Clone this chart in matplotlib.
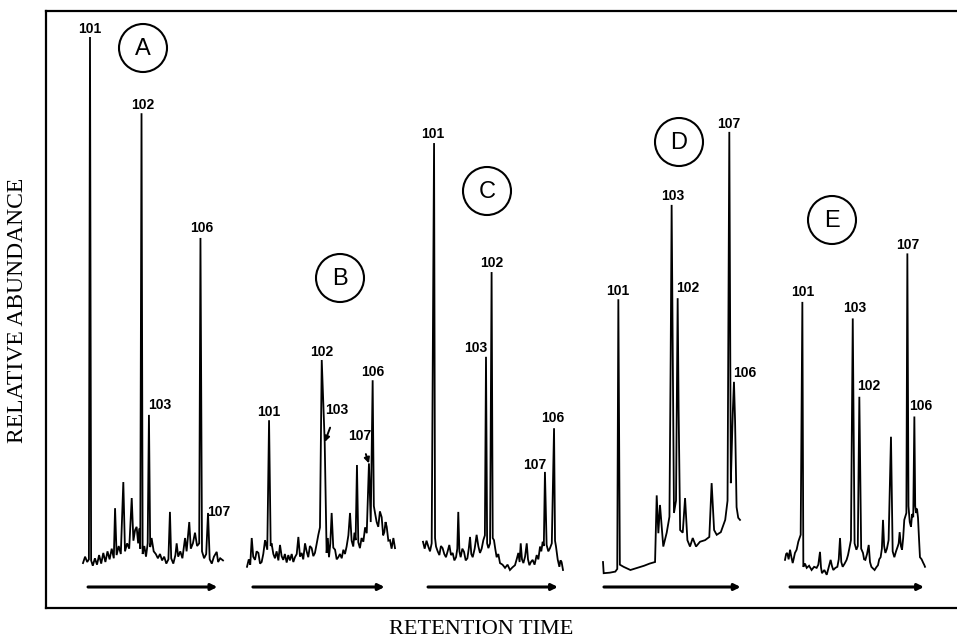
import numpy as np
import matplotlib.pyplot as plt
from matplotlib.patches import Circle

plt.rcParams['font.family'] = ['Liberation Sans', 'DejaVu Sans']

# retention time runs 0-100 across each trace, relative abundance 100 = peak 101 in run A
runs = ['A', 'B', 'C', 'D', 'E']

# labelled compounds in each run
A_ids = ['101', '102', '103', '106', '107']
A_rt = [5.0, 41.8, 47.1, 83.9, 89.3]
A_ab = [100, 85.7, 29.1, 62.3, 10.7]
B_ids = ['101', '102', '103', '106', '107']
B_rt = [14.9, 50.5, 52.5, 84.9, 82.4]
B_ab = [28.1, 39.4, 24.0, 35.6, 20.0]
C_ids = ['101', '102', '103', '106', '107']
C_rt = [7.9, 49.0, 45.0, 93.6, 87.1]
C_ab = [80.1, 55.9, 40.0, 26.6, 18.4]
D_ids = ['101', '103', '102', '107', '106']
D_rt = [11.2, 50.1, 54.5, 92.2, 95.6]
D_ab = [50.8, 68.5, 51.0, 82.2, 35.3]
E_ids = ['101', '103', '102', '107', '106']
E_rt = [12.4, 48.4, 53.1, 87.4, 92.4]
E_ab = [50.3, 47.2, 32.5, 59.4, 28.8]

# rest of each trace: baseline noise and unlabelled peaks
A_bg_rt = [0, 1.5, 3, 4.2, 5.8, 7, 8.5, 10, 11.5, 13, 14.5, 16, 17.5, 19, 20.5, 22, 22.9, 24,
           25.5, 27, 28.8, 30, 31.5, 33, 34.8, 36, 37.2, 38.3, 39.4, 40.2, 40.9, 42.6, 43.8,
           45, 46.2, 48, 49, 50.5, 52, 53.5, 55, 56.5, 58, 59.5, 61, 62.1, 63, 64.5, 66,
           66.9, 68, 69.5, 71, 72.9, 74, 75.9, 77, 78.5, 80, 81.5, 83, 85, 86.5, 88, 90.5,
           92, 93.5, 95.5, 96.5, 98, 100]
A_bg_ab = [1.3, 2.5, 1.5, 2.0, 1.8, 0.8, 2.2, 1.0, 2.8, 1.2, 3.2, 1.5, 3.5, 2.0, 4.0, 2.2, 11.6, 2.8,
           4.5, 3.0, 16.5, 3.5, 5.0, 4.0, 13.5, 5.5, 7.5, 8.1, 5.0, 7.8, 4.0, 3.0, 4.5,
           2.5, 5.0, 4.3, 6.0, 3.5, 3.0, 2.2, 3.0, 1.8, 2.5, 1.2, 2.0, 10.9, 2.2, 1.2, 2.8,
           5.0, 2.5, 3.5, 2.2, 6.0, 3.5, 9.0, 4.0, 5.0, 7.0, 4.5, 5.0, 3.5, 2.2, 3.0, 2.0,
           1.2, 2.5, 3.4, 1.5, 2.2, 1.8]
B_bg_rt = [0, 1.2, 2.2, 3.2, 4.2, 5.4, 6.5, 7.7, 8.8, 9.9, 11.0, 12.2, 13.7, 16.0, 16.6, 17.8,
           18.9, 20.0, 21.2, 22.3, 23.4, 24.5, 25.6, 26.8, 27.9, 29.0, 30.2, 31.3, 32.4, 33.6,
           34.7, 35.8, 36.9, 38.0, 39.2, 40.3, 41.4, 42.5, 43.7, 44.8, 45.9, 47.0, 48.2, 49.3,
           53.8, 54.6, 55.4, 56.3, 57.2, 58.3, 59.5, 60.6, 61.7, 62.8, 64.0, 65.1, 66.2, 67.3,
           68.5, 69.6, 70.7, 71.8, 72.6, 73.4, 74.3, 75.2, 76.3, 77.4, 78.6, 79.8, 80.9, 83.6,
           85.7, 86.5, 87.6, 88.7, 89.8, 91.0, 92.0, 92.8, 93.6, 94.4, 95.5, 96.6, 97.7, 98.9, 100]
B_bg_ab = [0.6, 2.0, 1.0, 6.0, 2.5, 1.9, 3.5, 3.2, 1.2, 1.5, 3.0, 5.6, 3.8, 4.5, 5.0, 3.0,
           2.2, 3.5, 1.8, 4.7, 2.6, 1.9, 3.0, 1.4, 2.8, 1.8, 3.0, 1.5, 2.4, 3.0,
           6.2, 2.5, 3.2, 2.0, 5.0, 3.5, 2.4, 4.5, 4.1, 2.6, 3.2, 4.8, 6.6, 8.0,
           3.2, 6.0, 2.4, 5.0, 10.7, 4.2, 3.8, 2.0, 2.4, 3.0, 2.2, 3.8, 3.0, 4.4,
           6.5, 10.7, 5.5, 4.4, 7.0, 5.6, 19.7, 5.2, 4.1, 6.0, 5.3, 8.0, 6.9, 9.0,
           12.0, 10.7, 9.0, 8.1, 11.0, 9.9, 6.5, 7.1, 9.0, 8.1, 5.5, 5.6, 4.0, 6.0, 4.1]
C_bg_rt = [0, 1.2, 2.5, 3.8, 5.0, 6.2, 8.6, 9.3, 10.5, 11.7, 12.8, 14.0, 15.2, 16.4, 17.6,
           18.8, 20.0, 21.2, 22.4, 23.6, 24.5, 25.2, 26.0, 26.9, 28.1, 29.3, 30.5, 31.7, 32.7,
           33.6, 34.5, 35.5, 36.9, 38.3, 39.5, 40.7, 41.9, 43.1, 44.2, 45.8, 46.7, 47.9, 49.8,
           50.7, 51.6, 52.6, 53.8, 55.0, 56.8, 58.6, 60.4, 62.1, 63.9, 65.7, 66.9, 68.1, 69.0,
           69.8, 70.7, 71.7, 72.9, 74.1, 75.0, 76.0, 77.1, 78.3, 79.7, 81.2, 82.4, 83.6, 84.5,
           85.5, 86.3, 88.3, 89.5, 90.7, 92.0, 94.3, 95.0, 96.2, 97.4, 98.2, 99.0, 100]
C_bg_ab = [5.3, 4.0, 5.5, 4.4, 3.5, 5.0, 6.0, 4.4, 3.5, 2.8, 4.5, 4.1, 3.0, 2.4, 3.5,
           4.7, 2.8, 3.2, 1.8, 2.4, 4.0, 10.9, 3.5, 2.4, 4.0, 3.4, 1.8, 2.2, 4.0,
           6.2, 3.0, 2.4, 4.0, 6.6, 4.5, 3.2, 4.0, 5.6, 6.5, 5.0, 4.1, 5.0, 6.0,
           5.6, 4.0, 2.4, 3.0, 1.3, 1.0, 0.4, 1.0, 0.0, 0.5, 0.9, 2.0, 3.2, 1.5,
           5.0, 2.0, 1.3, 2.5, 5.0, 2.0, 0.9, 1.5, 1.9, 1.0, 2.8, 2.0, 4.4, 3.5,
           5.3, 4.5, 4.7, 3.5, 4.1, 5.0, 5.5, 4.4, 2.0, 0.6, 1.8, 1.5, 0.0]
D_bg_rt = [0, 0.5, 5, 9, 10.4, 12.3, 15, 20, 25, 30, 34, 38, 39.2, 40.4, 41.6, 44, 46.5, 48.5,
           49.4, 51.8, 53.3, 55.2, 56.3, 58.2, 59.9, 61.6, 63.5, 65.5, 67.9, 70.8, 74.5, 77.6,
           79.3, 81.1, 83, 86, 89.2, 90.9, 93.3, 94.3, 94.8, 96.4, 97.5, 98.7, 100]
D_bg_ab = [1.5, -0.6, -0.5, -0.3, 0.2, 1.0, 0.6, 0.0, 0.4, 0.8, 1.2, 1.5, 14.0, 6.9, 12.2, 4.4, 7.0, 10.0,
           40.0, 10.7, 13.0, 30.0, 7.5, 7.0, 13.5, 5.6, 4.4, 6.0, 4.4, 5.3, 5.6, 6.2,
           16.3, 7.5, 6.6, 7.1, 9.4, 13.0, 16.3, 25.7, 30.0, 28.0, 11.8, 9.8, 9.4]
E_bg_rt = [0, 0.8, 1.6, 2.6, 3.6, 4.5, 5.5, 6.3, 7.1, 8.3, 9.5, 10.4, 11.2, 13.1, 14.3, 15.5,
           17.2, 19.0, 20.8, 22.6, 23.8, 25.0, 25.7, 26.4, 28.1, 29.8, 31.2, 32.6, 33.5, 34.5,
           36.0, 37.4, 38.4, 39.3, 40.2, 41.2, 42.6, 44.0, 45.0, 46.0, 47.1, 49.7, 51.0, 52.0,
           54.4, 55.7, 56.5, 57.4, 58.6, 59.8, 60.7, 61.7, 62.8, 64.0, 65.2, 66.4, 67.3, 68.3,
           69.2, 70.0, 70.8, 71.7, 72.8, 74.0, 75.7, 76.9, 78.1, 79.3, 80.5, 81.2, 81.9, 82.8,
           83.6, 84.4, 85.2, 86.7, 88.2, 89.1, 90.0, 90.8, 91.6, 93.0, 93.6, 94.3, 95.0, 95.7,
           96.4, 97.6, 98.8, 99.4, 100]
E_bg_ab = [1.9, 3.0, 3.2, 2.0, 3.8, 2.5, 1.3, 2.2, 3.2, 3.8, 5.3, 6.0, 6.6, 0.6, 1.2, 0.4,
           0.8, 0.0, 0.6, 0.4, 1.0, 3.4, 0.5, -0.6, 0.0, -0.9, 0.5, 1.9, 0.8, 0.0,
           0.4, 0.6, 2.0, 6.0, 1.5, 0.6, 1.2, 1.9, 2.8, 4.1, 5.6, 5.0, 3.8, 4.5,
           4.0, 3.2, 2.0, 1.9, 3.0, 4.7, 1.5, 0.6, 0.3, 0.0, 0.5, 0.9, 2.0, 2.4,
           4.0, 9.4, 4.5, 3.2, 4.0, 5.6, 25.0, 3.5, 2.4, 3.5, 4.4, 5.0, 7.1, 4.5,
           3.8, 6.0, 9.4, 10.7, 12.0, 9.0, 8.1, 10.5, 9.9, 12.0, 10.7, 11.5, 9.8, 6.0,
           2.4, 2.0, 1.3, 1.0, 0.6]

peaks = {'A': (A_ids, A_rt, A_ab), 'B': (B_ids, B_rt, B_ab), 'C': (C_ids, C_rt, C_ab),
         'D': (D_ids, D_rt, D_ab), 'E': (E_ids, E_rt, E_ab)}
background = {'A': (A_bg_rt, A_bg_ab), 'B': (B_bg_rt, B_bg_ab), 'C': (C_bg_rt, C_bg_ab),
              'D': (D_bg_rt, D_bg_ab), 'E': (E_bg_rt, E_bg_ab)}

# layout (pixels of a 957x644 figure)
W, H = 957, 644
panel_x = {'A': (83, 223), 'B': (247, 395), 'C': (423, 563), 'D': (603, 740), 'E': (785, 925)}
y_zero, y_full = 570, 37
circle_xy = {'A': (143, 48), 'B': (340, 278), 'C': (487, 191), 'D': (679, 142), 'E': (832, 220)}
arrow_rt = {'A': (3.6, 96), 'B': (4, 93), 'C': (3.6, 96.4), 'D': (0.7, 100.5), 'E': (3.6, 99.3)}
# label offsets from the peak top, pixels (dx, dy up)
label_off = {
    'A': [(0, 8), (1, 8), (11, 10), (1, 10), (11, 1)],
    'B': [(0, 8), (0, 8), (12, 32), (0, 8), (-9, 27)],
    'C': [(-1, 9), (0, 9), (-10, 9), (-1, 10), (-10, 7)],
    'D': [(-1, 8), (1, 9), (10, 10), (-1, 8), (11, 9)],
    'E': [(0, 10), (2, 10), (9, 11), (0, 8), (6, 10)],
}
with_arrow = {('B', '103'), ('B', '107')}

fig = plt.figure(figsize=(W / 100, H / 100), dpi=100)

# outer frame, open on the right
frame = fig.add_axes([46 / W, (H - 608) / H, 1.0, (608 - 11) / H])
frame.set_xticks([])
frame.set_yticks([])
frame.spines['right'].set_visible(False)
for s in ['left', 'top', 'bottom']:
    frame.spines[s].set_linewidth(1.6)

for run in runs:
    x0, x1 = panel_x[run]
    ax = fig.add_axes([x0 / W, (H - y_zero) / H, (x1 - x0) / W, (y_zero - y_full) / H])
    ax.set_xlim(0, 100)
    ax.set_ylim(0, 100)
    ax.axis('off')

    ids, rt, ab = peaks[run]
    bg_rt, bg_ab = background[run]
    t = np.array(bg_rt + rt)
    a = np.array(bg_ab + ab)
    order = np.argsort(t, kind='stable')
    ax.plot(t[order], a[order], color='black', lw=1.3, clip_on=False, solid_joinstyle='miter')

    for i, name in enumerate(ids):
        dx, dy = label_off[run][i]
        if (run, name) in with_arrow:
            ax.annotate(name, (rt[i], ab[i]), xytext=(dx, dy), textcoords='offset pixels',
                        ha='center', va='center', fontsize=10, fontweight='bold',
                        arrowprops=dict(arrowstyle='-|>', color='black', lw=1.4,
                                        mutation_scale=8, shrinkA=6, shrinkB=0))
        else:
            ax.annotate(name, (rt[i], ab[i]), xytext=(dx, dy), textcoords='offset pixels',
                        ha='center', va='center', fontsize=10, fontweight='bold')

    # retention time arrow under each trace
    r0, r1 = arrow_rt[run]
    ab_arrow = -(587 - y_zero) / (y_zero - y_full) * 100
    ax.annotate('', xy=(r1, ab_arrow), xytext=(r0, ab_arrow), annotation_clip=False,
                arrowprops=dict(arrowstyle='-|>', color='black', lw=2.2,
                                mutation_scale=9, shrinkA=0, shrinkB=0))

# circled run letters
over = fig.add_axes([0, 0, 1, 1])
over.set_xlim(0, W)
over.set_ylim(H, 0)
over.axis('off')
for run in runs:
    cx, cy = circle_xy[run]
    over.add_patch(Circle((cx, cy), 24, fill=False, lw=1.5, color='black'))
    over.text(cx, cy + 1, run, ha='center', va='center', fontsize=17)

fig.text(18 / W, 1 - 310 / H, 'RELATIVE ABUNDANCE', rotation=90, ha='center', va='center',
         family='Liberation Serif', fontsize=17)
fig.text(481 / W, 1 - 629 / H, 'RETENTION TIME', ha='center', va='center',
         family='Liberation Serif', fontsize=16)

fig.savefig('out.png', dpi=100)
